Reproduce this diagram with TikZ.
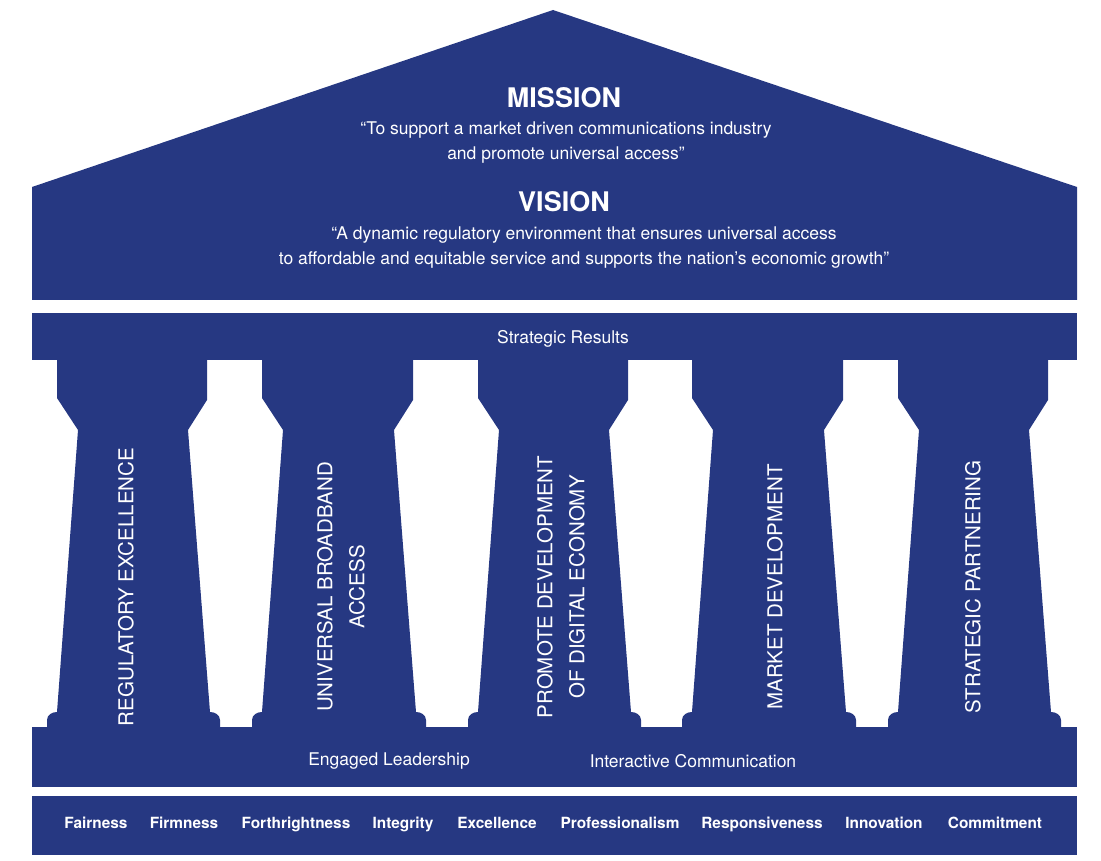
\documentclass[tikz,border=0pt]{standalone}
\usepackage{fontspec}
\setmainfont{TeX Gyre Heros}
\definecolor{navy}{HTML}{263882}
\begin{document}
\begin{tikzpicture}[x=1pt,y=-1pt,
  fillblue/.style={fill=navy,draw=none},
  wt/.style={text=white,font=\fontsize{17.5}{25}\selectfont,align=center},
  head/.style={text=white,font=\bfseries\fontsize{27}{30}\selectfont},
  col/.style={text=white,font=\fontsize{20.5}{32}\selectfont,align=center,rotate=90},
  val/.style={text=white,font=\bfseries\fontsize{15.4}{17}\selectfont,text height=11pt,text depth=3pt}]
\useasboundingbox (0,0) rectangle (1101,861);
\fill[navy] (32,187) -- (553,10) -- (1077,187) -- (1077,300) -- (32,300) -- cycle;
\fill[navy] (32,313) rectangle (1077,360);
\fill[navy] (32,727) rectangle (1077,787);
\fill[navy] (32,796) rectangle (1077,855);
\foreach \l/\r in {57/207,262/413,478/628,692/843,898/1048}{
  \fill[navy] (\l,359) -- (\l,398) -- (\l+21,430) -- (\l,712)
     to[out=180,in=90] (\l-10,720) -- (\l-10,728) -- (\r+13,728) -- (\r+13,720)
     to[out=90,in=0] (\r+3,712) -- (\r-19,430) -- (\r,400) -- (\r,359) -- cycle;
}
\node[head] (m) at (564,98) {MISSION};
\node[wt] (mt) at (566,143) {“To support a market driven communications industry\\and promote universal access”};
\node[head] (v) at (564,202) {VISION};
\node[wt] (vt) at (584,248) {“A dynamic regulatory environment that ensures universal access\\to affordable and equitable service and supports the nation’s economic growth”};
\node[wt] (sr) at (563,339) {Strategic Results};
\node[col] (c1) at (126,587) {REGULATORY EXCELLENCE};
\node[col] (c2) at (341,587) {UNIVERSAL BROADBAND\\ACCESS};
\node[col] (c3) at (561,587) {PROMOTE DEVELOPMENT\\OF DIGITAL ECONOMY};
\node[col] (c4) at (775,587) {MARKET DEVELOPMENT};
\node[col] (c5) at (973,587) {STRATEGIC PARTNERING};
\node[wt] (el) at (389,761) {Engaged Leadership};
\node[wt] (ic) at (693,761) {Interactive Communication};
\foreach \t/\x in {Fairness/96,Firmness/184,Forthrightness/296,Integrity/403,Excellence/497,Professionalism/620,Responsiveness/762,Innovation/884,Commitment/995}{
  \node[val] (v\x) at (\x,824) {\t};
}
\end{tikzpicture}
\end{document}
